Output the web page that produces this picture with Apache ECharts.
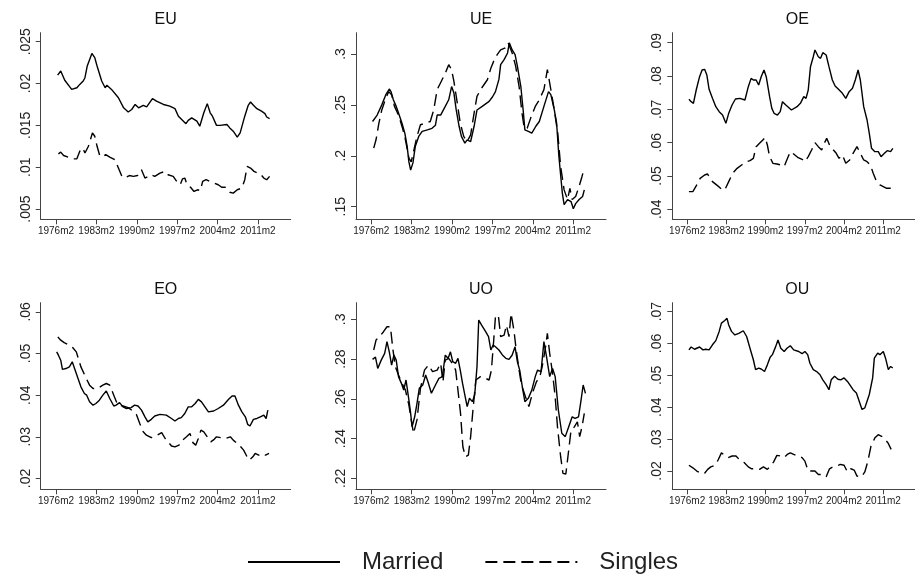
<!DOCTYPE html>
<html><head><meta charset="utf-8">
<script src="https://cdn.jsdelivr.net/npm/echarts@6/dist/echarts.min.js"></script>
<style>html,body{margin:0;padding:0;background:#fff}#c{width:915px;height:578px}</style>
</head><body><div id="c"></div>
<script>
// ---- data ----
const panelTitles = ['EU','UE','OE','EO','UO','OU'];
const xTickValues = [1976.083,1983.083,1990.083,1997.083,2004.083,2011.083];
const xTickLabels = ['1976m2','1983m2','1990m2','1997m2','2004m2','2011m2'];
const legendNames = ['Married','Singles'];

const yTicksEU = [.005,.01,.015,.02,.025];
const yTicksUE = [.15,.2,.25,.3];
const yTicksOE = [.04,.05,.06,.07,.08,.09];
const yTicksEO = [.02,.03,.04,.05,.06];
const yTicksUO = [.22,.24,.26,.28,.3];
const yTicksOU = [.02,.03,.04,.05,.06,.07];

const euMarried = [[1976.37,.0210],[1976.9,.0215],[1977.6,.0204],[1978.8,.0193],[1979.7,.0195],[1980.2,.0199],[1980.8,.0203],[1981.1,.0207],[1981.5,.0221],[1982.3,.0236],[1982.8,.0231],[1983.2,.0221],[1984.0,.0203],[1984.6,.0195],[1984.9,.0198],[1985.7,.0193],[1986.9,.0183],[1987.8,.0171],[1988.6,.0166],[1989.2,.0169],[1989.8,.0175],[1990.4,.0171],[1991.2,.0174],[1991.8,.0172],[1992.8,.0182],[1993.5,.0179],[1994.7,.0175],[1995.8,.0173],[1996.7,.0170],[1997.3,.0161],[1998.0,.0156],[1998.6,.0152],[1999.0,.0156],[1999.6,.0159],[2000.5,.0155],[2001.0,.0149],[2001.3,.0151],[2001.7,.0165],[2002.3,.0176],[2002.8,.0165],[2003.2,.0161],[2003.9,.0150],[2004.5,.0150],[2005.7,.0151],[2006.2,.0147],[2006.8,.0143],[2007.5,.0136],[2008.0,.0141],[2008.8,.0161],[2009.4,.0174],[2009.8,.0178],[2010.3,.0174],[2010.9,.0170],[2011.7,.0167],[2012.3,.0164],[2012.6,.0160],[2013.1,.0158]];
const euSingles = [[1976.5,.0116],[1976.9,.0118],[1977.4,.0114],[1978.2,.0112],[1979.1,.0110],[1979.7,.0110],[1980.2,.0119],[1980.7,.0123],[1981.1,.0117],[1981.7,.0125],[1982.4,.0141],[1982.8,.0137],[1983.2,.0125],[1983.7,.0113],[1984.3,.0113],[1984.7,.0115],[1985.4,.0112],[1986.3,.0109],[1986.9,.0099],[1987.5,.0089],[1988.0,.0087],[1988.8,.0090],[1989.5,.0089],[1990.2,.0090],[1990.9,.0097],[1991.5,.0087],[1992.1,.0089],[1992.5,.0091],[1993.2,.0089],[1994.1,.0093],[1995.0,.0095],[1995.5,.0091],[1996.4,.0089],[1997.0,.0083],[1997.6,.0079],[1998.0,.0086],[1998.4,.0087],[1998.8,.0079],[1999.4,.0076],[2000.0,.0071],[2000.6,.0073],[2001.1,.0072],[2001.5,.0083],[2002.1,.0085],[2002.7,.0083],[2003.2,.0082],[2004.2,.0079],[2004.8,.0076],[2005.4,.0076],[2006.2,.0070],[2006.8,.0069],[2007.5,.0073],[2008.3,.0075],[2008.8,.0085],[2009.2,.0101],[2009.8,.0099],[2010.4,.0095],[2011.0,.0093],[2011.5,.0092],[2012.1,.0087],[2012.6,.0085],[2013.1,.0089]];

const ueMarried = [[1976.3,.2337],[1977.1,.240],[1977.9,.250],[1978.6,.260],[1979.2,.2656],[1979.5,.263],[1979.9,.255],[1980.4,.2485],[1980.8,.242],[1981.4,.232],[1981.9,.222],[1982.3,.209],[1982.6,.194],[1982.9,.186],[1983.3,.193],[1983.7,.209],[1984.3,.219],[1984.9,.224],[1985.8,.2255],[1986.6,.227],[1987.2,.230],[1987.5,.240],[1988.1,.240],[1988.9,.2485],[1989.5,.255],[1990.0,.268],[1990.4,.2616],[1990.8,.245],[1991.3,.229],[1991.7,.219],[1992.3,.2124],[1992.7,.2157],[1993.3,.214],[1993.9,.229],[1994.4,.245],[1995.3,.2485],[1996.5,.2534],[1997.1,.258],[1997.6,.263],[1998.2,.275],[1998.5,.2895],[1999.1,.2944],[1999.7,.301],[2000.0,.311],[2000.5,.304],[2001.0,.2993],[2001.4,.288],[2002.0,.268],[2002.4,.245],[2002.7,.2255],[2003.3,.224],[2003.9,.2223],[2004.6,.229],[2005.2,.2337],[2006.0,.2485],[2006.8,.263],[2007.2,.260],[2007.8,.245],[2008.2,.232],[2008.6,.199],[2009.2,.163],[2009.5,.152],[2010.1,.157],[2010.7,.155],[2011.1,.148],[2011.5,.153],[2012.1,.157],[2012.7,.160],[2013.0,.1665]];
const ueSingles = [[1976.5,.2075],[1976.9,.2157],[1977.4,.232],[1977.9,.245],[1978.6,.2567],[1979.1,.263],[1979.6,.260],[1980.1,.2485],[1980.8,.240],[1981.5,.227],[1982.0,.2157],[1982.6,.1977],[1983.0,.194],[1983.4,.204],[1984.0,.219],[1984.6,.2305],[1985.5,.232],[1986.3,.2337],[1986.9,.245],[1987.5,.265],[1988.2,.273],[1988.9,.281],[1989.5,.2895],[1990.0,.2846],[1990.4,.273],[1990.9,.255],[1991.5,.232],[1992.1,.219],[1992.7,.214],[1993.3,.2206],[1993.9,.242],[1994.4,.2584],[1995.2,.2665],[1996.2,.2747],[1996.8,.286],[1997.4,.2944],[1997.9,.2993],[1998.5,.304],[1999.3,.306],[1999.8,.311],[2000.5,.301],[2001.1,.288],[2001.7,.268],[2002.2,.242],[2002.6,.227],[2003.1,.227],[2003.7,.237],[2004.5,.2485],[2005.2,.255],[2006.0,.265],[2006.6,.2846],[2007.2,.265],[2007.8,.245],[2008.4,.222],[2008.9,.1895],[2009.5,.1665],[2010.1,.157],[2010.5,.168],[2010.9,.157],[2011.5,.160],[2012.1,.170],[2012.6,.1796],[2013.0,.188]];

const oeMarried = [[1976.4,.0730],[1976.8,.0723],[1977.2,.0718],[1977.7,.0758],[1978.3,.0798],[1978.75,.0818],[1979.2,.0820],[1979.6,.0803],[1980.0,.0760],[1980.6,.0733],[1981.2,.0708],[1981.8,.0693],[1982.4,.0683],[1983.0,.0658],[1983.5,.0688],[1984.1,.0713],[1984.7,.0731],[1985.5,.0733],[1986.4,.0728],[1987.0,.0768],[1987.5,.0793],[1987.9,.0788],[1988.4,.0788],[1988.85,.0773],[1989.3,.0798],[1989.8,.0818],[1990.2,.0798],[1990.8,.0738],[1991.2,.0703],[1991.6,.0688],[1992.2,.0683],[1992.7,.0693],[1993.1,.0723],[1993.7,.0713],[1994.7,.0698],[1995.7,.0708],[1996.3,.0718],[1996.9,.0738],[1997.3,.0733],[1997.7,.0758],[1998.1,.0828],[1998.6,.0858],[1998.9,.0878],[1999.5,.0858],[1999.9,.0853],[2000.3,.0870],[2000.9,.0863],[2001.4,.0828],[2002.0,.0788],[2002.5,.0770],[2003.1,.0760],[2003.8,.0748],[2004.4,.0733],[2005.0,.0753],[2005.6,.0763],[2006.1,.0788],[2006.6,.0818],[2007.0,.0788],[2007.6,.0708],[2008.2,.0668],[2008.6,.0628],[2009.0,.0583],[2009.6,.0573],[2010.2,.0573],[2010.7,.0558],[2011.3,.0568],[2011.8,.0576],[2012.4,.0573],[2012.8,.0583]];
const oeSingles = [[1976.4,.0453],[1977.1,.0453],[1977.8,.0473],[1978.4,.0493],[1979.2,.0503],[1979.7,.0506],[1980.6,.0483],[1981.5,.0471],[1982.4,.0458],[1982.8,.0458],[1983.5,.0483],[1984.2,.0508],[1985.0,.0523],[1985.8,.0533],[1986.7,.0543],[1987.3,.0546],[1987.9,.0553],[1988.4,.0588],[1989.0,.0598],[1989.6,.0608],[1990.0,.0616],[1990.4,.0593],[1990.8,.0558],[1991.4,.0538],[1992.1,.0536],[1992.8,.0533],[1993.4,.0528],[1994.0,.0553],[1994.5,.0573],[1995.1,.0566],[1995.8,.0556],[1996.6,.0550],[1997.1,.0543],[1997.7,.0558],[1998.3,.0578],[1998.9,.0600],[1999.5,.0588],[2000.1,.0578],[2000.5,.0596],[2001.0,.0613],[2001.5,.0593],[2002.1,.0580],[2002.7,.0568],[2003.2,.0553],[2003.8,.0563],[2004.4,.0538],[2005.1,.0548],[2005.7,.0568],[2006.4,.0588],[2007.0,.0568],[2007.6,.0548],[2008.2,.0543],[2008.8,.0533],[2009.3,.0508],[2009.9,.0483],[2010.5,.0473],[2011.1,.0468],[2011.7,.0463],[2012.2,.0463],[2013.0,.0463]];

const eoMarried = [[1976.2,.0504],[1976.5,.0496],[1976.9,.0484],[1977.2,.0462],[1977.8,.0464],[1978.4,.0468],[1978.9,.0480],[1979.3,.0464],[1979.9,.0440],[1980.4,.0420],[1981.0,.0404],[1981.4,.0400],[1981.9,.0384],[1982.5,.0376],[1983.0,.0380],[1983.6,.0388],[1984.2,.0400],[1984.8,.0410],[1985.4,.0392],[1986.1,.0374],[1986.5,.0376],[1987.1,.0382],[1987.7,.0372],[1988.3,.0368],[1989.1,.0370],[1989.7,.0376],[1990.3,.0374],[1990.9,.0364],[1991.5,.0348],[1992.0,.0336],[1992.6,.0342],[1993.2,.0350],[1994.1,.0354],[1995.2,.0352],[1996.1,.0344],[1996.7,.0338],[1997.3,.0344],[1997.8,.0346],[1998.4,.0356],[1999.0,.0372],[1999.6,.0372],[2000.2,.0380],[2000.75,.0390],[2001.3,.0384],[2001.9,.0372],[2002.5,.0360],[2003.4,.0362],[2004.2,.0368],[2005.1,.0376],[2006.0,.0390],[2006.6,.0398],[2007.1,.0398],[2007.7,.0376],[2008.3,.0360],[2008.9,.0348],[2009.3,.0330],[2009.7,.0326],[2010.3,.0342],[2010.9,.0344],[2011.5,.0348],[2012.1,.0352],[2012.5,.0344],[2012.8,.0364]];
const eoSingles = [[1976.4,.0540],[1976.9,.0532],[1977.5,.0526],[1978.4,.0520],[1979.0,.0514],[1979.6,.0504],[1980.4,.0468],[1981.2,.0444],[1981.9,.0424],[1982.5,.0416],[1983.3,.0416],[1984.2,.0424],[1984.8,.0428],[1985.4,.0424],[1986.2,.0396],[1986.8,.0376],[1987.7,.0374],[1988.6,.0370],[1989.4,.0362],[1990.0,.0354],[1990.6,.0332],[1991.2,.0312],[1991.75,.0304],[1992.6,.0298],[1993.4,.0302],[1994.4,.0310],[1995.0,.0296],[1995.5,.0288],[1996.1,.0278],[1996.7,.0276],[1997.4,.0280],[1998.0,.0292],[1998.7,.0300],[1999.3,.0308],[1999.8,.0286],[2000.3,.0280],[2000.75,.0296],[2001.2,.0316],[2001.7,.0312],[2002.3,.0300],[2002.9,.0288],[2003.5,.0294],[2003.9,.0300],[2004.6,.0298],[2005.4,.0296],[2006.3,.0300],[2006.8,.0292],[2007.5,.0284],[2008.1,.0276],[2008.6,.0268],[2009.2,.0252],[2009.6,.0244],[2010.2,.0252],[2010.6,.0260],[2011.2,.0256],[2011.8,.0260],[2012.4,.0256],[2013.0,.0260]];

const uoMarried = [[1976.3,.2799],[1976.8,.2810],[1977.2,.2753],[1977.8,.2795],[1978.4,.2829],[1978.8,.2888],[1979.2,.2837],[1979.6,.2770],[1980.0,.2820],[1980.4,.2795],[1980.8,.2712],[1981.3,.2678],[1981.7,.2644],[1982.1,.2695],[1982.6,.2594],[1982.9,.2527],[1983.15,.2460],[1983.6,.2510],[1984.0,.2577],[1984.4,.2653],[1985.0,.2670],[1985.5,.2720],[1985.9,.2686],[1986.5,.2628],[1987.2,.2670],[1987.8,.2703],[1988.4,.2712],[1988.9,.2820],[1989.4,.2804],[1989.8,.2837],[1990.2,.2787],[1990.7,.2779],[1991.1,.2804],[1991.5,.2745],[1991.9,.2678],[1992.3,.2619],[1992.7,.2561],[1993.1,.2603],[1993.6,.2586],[1994.0,.2619],[1994.4,.2762],[1994.7,.2997],[1995.2,.2971],[1995.9,.2938],[1996.4,.2913],[1996.8,.2846],[1997.2,.2871],[1997.6,.2862],[1998.2,.2846],[1998.8,.2821],[1999.4,.2804],[1999.95,.2799],[2000.5,.2821],[2001.0,.2862],[2001.4,.2787],[2001.8,.2745],[2002.3,.2653],[2002.7,.2586],[2003.3,.2603],[2003.9,.2644],[2004.5,.2712],[2004.9,.2745],[2005.5,.2737],[2006.0,.2888],[2006.4,.2821],[2007.0,.2712],[2007.5,.2753],[2007.95,.2712],[2008.5,.2544],[2009.1,.2427],[2009.7,.2410],[2010.3,.2460],[2010.9,.2510],[2011.4,.2502],[2012.0,.2510],[2012.4,.2586],[2012.8,.2670],[2013.2,.2628]];
const uoSingles = [[1976.5,.2846],[1976.9,.2896],[1977.5,.2913],[1978.2,.2938],[1978.8,.2963],[1979.4,.2963],[1979.8,.2854],[1980.25,.2762],[1980.8,.2720],[1981.4,.2678],[1982.0,.2644],[1982.6,.2569],[1983.0,.2494],[1983.4,.2426],[1984.0,.2494],[1984.6,.2653],[1985.3,.2745],[1986.0,.2770],[1986.7,.2737],[1987.5,.2745],[1988.1,.2779],[1988.5,.2686],[1988.9,.2795],[1989.5,.2804],[1990.1,.2779],[1990.7,.2745],[1991.1,.2644],[1991.55,.2527],[1991.95,.2359],[1992.4,.2309],[1992.9,.2317],[1993.3,.2410],[1993.7,.2544],[1994.2,.2695],[1995.0,.2712],[1995.9,.2703],[1996.5,.2695],[1996.9,.2745],[1997.3,.2896],[1997.6,.3013],[1998.1,.3022],[1998.5,.2913],[1999.1,.2921],[1999.5,.2971],[1999.95,.2913],[2000.3,.3030],[2000.8,.2946],[2001.2,.2846],[2001.7,.2745],[2002.1,.2670],[2002.6,.2628],[2003.4,.2561],[2004.0,.2628],[2004.7,.2686],[2005.3,.2712],[2005.7,.2762],[2006.2,.2846],[2006.6,.2930],[2007.0,.2829],[2007.5,.2728],[2007.95,.2611],[2008.35,.2460],[2008.9,.2309],[2009.3,.2225],[2009.8,.2222],[2010.3,.2343],[2010.7,.2443],[2011.3,.2460],[2011.8,.2485],[2012.2,.2410],[2012.6,.2460],[2013.0,.2527]];

const ouMarried = [[1976.4,.0580],[1976.8,.0589],[1977.4,.0582],[1978.3,.0589],[1978.9,.0580],[1979.4,.0582],[1980.0,.0580],[1980.6,.0596],[1981.2,.0609],[1981.8,.0638],[1982.2,.0664],[1982.8,.0672],[1983.2,.0679],[1983.5,.0658],[1984.0,.0638],[1984.6,.0627],[1985.3,.0632],[1986.1,.0640],[1986.7,.0622],[1987.3,.0585],[1987.9,.0549],[1988.3,.0518],[1988.85,.0523],[1989.3,.0520],[1989.9,.0512],[1990.4,.0533],[1990.9,.0557],[1991.3,.0565],[1991.9,.0591],[1992.3,.0611],[1992.8,.0585],[1993.4,.0575],[1993.9,.0585],[1994.5,.0593],[1995.1,.0580],[1996.0,.0575],[1996.6,.0568],[1997.1,.0575],[1997.6,.0565],[1998.0,.0538],[1998.6,.0518],[1999.2,.0512],[1999.8,.0502],[2000.3,.0486],[2000.9,.0471],[2001.4,.0455],[2001.8,.0486],[2002.4,.0497],[2003.0,.0488],[2003.5,.0486],[2004.1,.0492],[2004.7,.0481],[2005.1,.0471],[2005.7,.0455],[2006.3,.0445],[2006.8,.0419],[2007.3,.0393],[2007.8,.0398],[2008.2,.0419],[2008.6,.0440],[2009.2,.0492],[2009.5,.0554],[2010.1,.0570],[2010.5,.0565],[2011.1,.0575],[2011.5,.0554],[2012.0,.0518],[2012.4,.0528],[2012.8,.0523]];
const ouSingles = [[1976.4,.0218],[1977.1,.0210],[1977.8,.0200],[1978.6,.0193],[1979.2,.0193],[1979.75,.0205],[1980.3,.0213],[1981.1,.0218],[1981.65,.0236],[1982.2,.0257],[1982.8,.0249],[1983.4,.0242],[1984.1,.0247],[1984.8,.0247],[1985.5,.0234],[1986.3,.0226],[1987.0,.0213],[1987.6,.0207],[1988.2,.0207],[1989.0,.0205],[1989.7,.0213],[1990.4,.0205],[1990.9,.0215],[1991.5,.0228],[1992.1,.0249],[1992.8,.0247],[1993.4,.0242],[1993.95,.0252],[1994.5,.0257],[1995.1,.0252],[1995.8,.0247],[1996.6,.0242],[1997.1,.0231],[1997.7,.0200],[1998.3,.0200],[1998.9,.0200],[1999.5,.0189],[2000.2,.0189],[2000.9,.0182],[2001.5,.0207],[2002.1,.0213],[2002.8,.0215],[2003.4,.0221],[2004.1,.0218],[2004.7,.0197],[2005.3,.0207],[2005.9,.0203],[2006.4,.0184],[2007.2,.0182],[2007.8,.0197],[2008.35,.0231],[2008.9,.0278],[2009.6,.0304],[2010.2,.0314],[2010.8,.0309],[2011.4,.0299],[2011.95,.0288],[2012.5,.0268]];

// ---- layout ----
const FONT = '"Liberation Sans", Arial, Helvetica, sans-serif';
const gridLefts = [40.7, 356, 672.3];
const gridTops = [32.7, 302.7];
const gridW = 250, gridH = 186.6;
const xRange = [1973.43, 2016.76];
const yRanges = [[.00377,.02608],[.1376,.3209],[.0370,.0930],[.0174,.0622],[.2145,.3084],[.01426,.0728]];
const yTickSets = [yTicksEU, yTicksUE, yTicksOE, yTicksEO, yTicksUO, yTicksOU];
const marriedSets = [euMarried, ueMarried, oeMarried, eoMarried, uoMarried, ouMarried];
const singlesSets = [euSingles, ueSingles, oeSingles, eoSingles, uoSingles, ouSingles];

const AX = '#444';
const grids = [], xAxes = [], yAxes = [], titles = [], series = [];
for (let i = 0; i < 6; i++) {
  const col = i % 3, row = Math.floor(i / 3);
  grids.push({left: gridLefts[col], top: gridTops[row], width: gridW, height: gridH, containLabel: false});
  titles.push({text: panelTitles[i], left: gridLefts[col] + gridW / 2, top: gridTops[row] - 21, textAlign: 'center', padding: 0,
    textStyle: {fontFamily: FONT, fontSize: 16, fontWeight: 'normal', color: '#111'}});
  xAxes.push({type: 'value', gridIndex: i, min: xRange[0], max: xRange[1],
    axisLine: {show: true, lineStyle: {color: AX, width: 1}},
    axisTick: {show: true, length: 5, customValues: xTickValues, lineStyle: {color: AX}},
    axisLabel: {show: true, customValues: xTickValues, fontFamily: FONT, fontSize: 10, color: '#222', margin: 7,
      formatter: v => { let k = 0, d = 1e9; xTickValues.forEach((t, j) => { if (Math.abs(t - v) < d) { d = Math.abs(t - v); k = j; } }); return xTickLabels[k]; }},
    splitLine: {show: false}});
  yAxes.push({type: 'value', gridIndex: i, min: yRanges[i][0], max: yRanges[i][1],
    axisLine: {show: true, lineStyle: {color: AX, width: 1}},
    axisTick: {show: true, length: 5, customValues: yTickSets[i], lineStyle: {color: AX}},
    axisLabel: {show: true, customValues: yTickSets[i], rotate: 90, fontFamily: FONT, fontSize: 14, color: '#222', margin: 8,
      formatter: v => String(+v.toFixed(4)).replace(/^0\./, '.')},
    splitLine: {show: false}});
  series.push({name: legendNames[0], type: 'line', xAxisIndex: i, yAxisIndex: i, data: marriedSets[i],
    symbol: 'none', showSymbol: false, lineStyle: {color: '#000', width: 1.4, type: 'solid'}, itemStyle: {color: '#000'}});
  series.push({name: legendNames[1], type: 'line', xAxisIndex: i, yAxisIndex: i, data: singlesSets[i],
    symbol: 'none', showSymbol: false, lineStyle: {color: '#000', width: 1.4, type: [12, 6]}, itemStyle: {color: '#000'}});
}

const chart = echarts.init(document.getElementById('c'), null, {renderer: 'canvas'});
chart.setOption({
  animation: false,
  backgroundColor: '#fff',
  title: titles,
  grid: grids,
  xAxis: xAxes,
  yAxis: yAxes,
  legend: {data: legendNames, left: 247, top: 550, itemWidth: 92, itemHeight: 14, itemGap: 41, padding: 0,
    itemStyle: {opacity: 0},
    textStyle: {fontFamily: FONT, fontSize: 24, color: '#222', padding: [0, 0, 0, 17]}},
  series: series
});
</script></body></html>
